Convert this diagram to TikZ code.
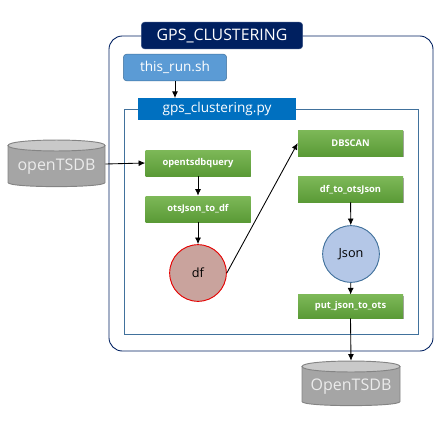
\documentclass[tikz,border=0pt]{standalone}
\usepackage{fontspec}
\setmainfont{Open Sans}
\usetikzlibrary{arrows.meta,shadows,positioning}
\definecolor{navy}{HTML}{002060}
\definecolor{midblue}{HTML}{5B9BD5}
\definecolor{pyblue}{HTML}{0070C0}
\definecolor{frameblue}{HTML}{41719C}
\definecolor{gtop}{HTML}{7DB858}
\definecolor{gbot}{HTML}{5A9A36}
\definecolor{dbbody}{HTML}{A5A5A5}
\definecolor{dbtop}{HTML}{C9C9C9}
\definecolor{dbline}{HTML}{848484}
\definecolor{dffill}{HTML}{C9A39D}
\definecolor{jsonfill}{HTML}{B4C7E7}
\tikzset{
  x=0.75pt,y=-0.75pt,
  flow/.style={-{Latex[length=5pt,width=4.5pt]},line width=0.65pt,black},
  greenbox/.style={rectangle,inner sep=0pt,top color=gtop,bottom color=gbot,draw=none,
    text=white,font=\fontsize{7pt}{8pt}\selectfont\bfseries,
    minimum width=78.75pt,
    drop shadow={shadow xshift=0.6pt,shadow yshift=-0.9pt,opacity=.35,fill=black}},
  circ/.style={circle,inner sep=0pt,minimum size=42.5pt,line width=0.7pt,text=black,
    font=\fontsize{9.5pt}{11pt}\selectfont},
  dblabel/.style={rectangle,inner sep=0pt,text=white!92!black,
    font=\fontsize{12pt}{14pt}\selectfont},
  dbpart/.style={draw=dbline,line width=0.7pt},
  bluehead/.style={rectangle,inner sep=0pt,text=white,font=\fontsize{10.2pt}{12pt}\selectfont},
}
\newcommand{\dbshape}[4]{% x1 y1(top) x2 y2(bottom)
  \path[dbpart,fill=dbbody] (#1,#2+5.5) -- (#1,#4-5.5)
     .. controls (#1,#4) and (#3,#4) .. (#3,#4-5.5) -- (#3,#2+5.5) -- cycle;
  \path[dbpart,fill=dbtop] (#1,#2+5.5) .. controls (#1,#2-1.8) and (#3,#2-1.8) .. (#3,#2+5.5)
     .. controls (#3,#2+12.8) and (#1,#2+12.8) .. (#1,#2+5.5) -- cycle;
}
\begin{document}
\begin{tikzpicture}
\useasboundingbox (0,0) rectangle (445,421);
\draw[navy,line width=0.65pt,rounded corners=10pt] (109,36) rectangle (433,351);
\draw[frameblue,line width=0.65pt] (124.5,109) rectangle (418,334);

\node[bluehead,rounded corners=2.5pt,fill=navy,draw=navy!80!white,minimum width=121pt,minimum height=20pt,font=\fontsize{11.9pt}{14pt}\selectfont] (title) at (222,35.5) {GPS\_CLUSTERING};
\node[bluehead,rounded corners=2.5pt,fill=midblue,draw=frameblue,minimum width=77.5pt,minimum height=20pt] (run) at (175,67.5) {this\_run.sh};
\node[bluehead,fill=pyblue,minimum width=118pt,minimum height=16pt] (py) at (217,109) {gps\_clustering.py};

\node[greenbox,minimum height=19.5pt] (query) at (198,163) {opentsdbquery};
\node[greenbox,minimum height=19.5pt] (tojdf) at (198,209) {otsJson\_to\_df};
\node[circ,draw=red!90!black,fill=dffill] (df) at (198,273) {df};
\node[greenbox,minimum height=19.5pt] (dbscan) at (350.5,143) {DBSCAN};
\node[greenbox,minimum height=19pt] (toots) at (350.5,189.5) {df\_to\_otsJson};
\node[circ,draw=frameblue,fill=jsonfill] (json) at (351,254) {Json};
\node[greenbox,minimum height=17.5pt] (put) at (350.5,306.5) {put\_json\_to\_ots};

\dbshape{8}{140}{105}{188}
\node[dblabel,minimum width=72.75pt,minimum height=36pt] (db1) at (56.5,164) {};
\node[dblabel] at (56.5,167) {openTSDB};
\dbshape{302}{361}{400}{407}
\node[dblabel,minimum width=73.5pt,minimum height=34.5pt] (db2) at (351,384) {};
\node[dblabel] at (351,387) {OpenTSDB};

\draw[flow] (run.south) -- (run.south |- py.north);
\draw[flow] (db1.east) -- (query.west);
\draw[flow] (query) -- (tojdf);
\draw[flow] (tojdf) -- (df);
\draw[flow] (df.east) -- (dbscan.west);
\draw[flow] (toots) -- (json);
\draw[flow] (json) -- (put);
\draw[flow] (put.south) -- (db2.north);
\end{tikzpicture}
\end{document}
